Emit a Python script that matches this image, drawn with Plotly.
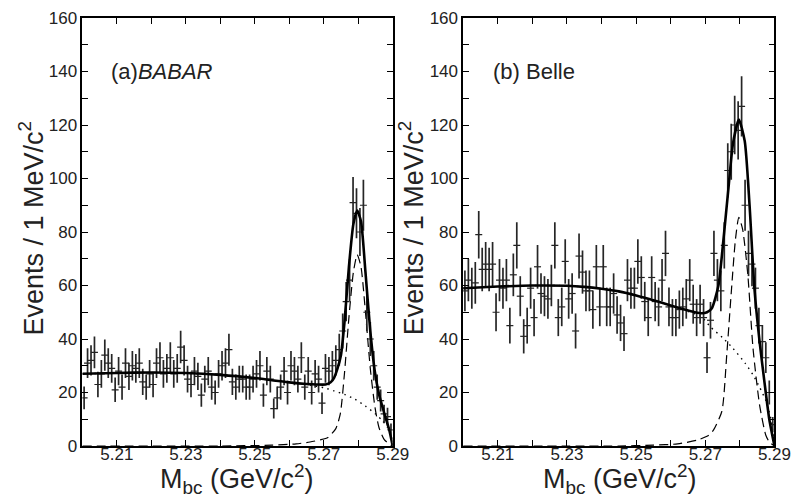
import numpy as np
import plotly.graph_objects as go

# 1 MeV bins, centres from 5.2005 to 5.2895
mbc_bins = np.round(5.2005 + 0.001 * np.arange(90), 4)

babar_counts = [18, 31, 32, 35, 23, 27, 34, 31, 29, 21, 28, 22, 31, 26, 30,
                29, 31, 24, 22, 27, 23, 31, 33, 27, 29, 33, 27, 29, 37, 32,
                25, 23, 28, 26, 19, 25, 28, 22, 20, 27, 30, 31, 36, 24, 22,
                25, 25, 22, 22, 25, 27, 30, 19, 28, 25, 14, 18, 22, 28, 20,
                30, 28, 25, 33, 22, 28, 20, 27, 25, 16, 29, 28, 30, 32, 36,
                43, 54, 62, 91, 87, 80, 90, 50, 40, 30, 22, 17, 12, 11, 6]

belle_counts = [58, 62, 59, 61, 79, 66, 68, 66, 68, 50, 62, 59, 62, 45, 64,
                75, 56, 41, 45, 59, 48, 67, 57, 56, 55, 60, 75, 48, 52, 69,
                55, 57, 43, 71, 65, 58, 58, 51, 67, 52, 67, 52, 52, 57, 49,
                46, 42, 62, 59, 59, 69, 63, 54, 48, 63, 54, 52, 62, 72, 52,
                48, 48, 51, 52, 55, 62, 53, 48, 53, 48, 33, 47, 72, 62, 58,
                75, 103, 110, 120, 118, 127, 90, 72, 68, 59, 45, 39, 33, 20, 8]

# fitted curves
fit_a_x = [5.200, 5.210, 5.220, 5.230, 5.240, 5.250, 5.255, 5.260, 5.265, 5.268,
           5.2705, 5.272, 5.273, 5.274, 5.275, 5.276, 5.2773, 5.2786, 5.2797,
           5.2808, 5.2821, 5.2835, 5.2848, 5.286, 5.2875, 5.289, 5.290]
fit_a_y = [27.0, 27.3, 27.5, 27.3, 26.6, 25.4, 24.6, 23.8, 23.2, 23.0,
           23.0, 23.8, 25.5, 29, 34, 46, 67, 83, 88,
           84, 65, 43, 28, 19.5, 12.5, 6, 0]

bkg_a_x = [5.200, 5.220, 5.240, 5.250, 5.260, 5.266, 5.270, 5.273, 5.276,
           5.279, 5.282, 5.285, 5.287, 5.2885, 5.2895, 5.290]
bkg_a_y = [27, 27.5, 26.6, 25.4, 23.8, 22.8, 21.8, 20.6, 19.3,
           17.5, 15, 12, 9.5, 7, 4.5, 0]

sig_a_x = [5.200, 5.240, 5.255, 5.262, 5.266, 5.269, 5.2712, 5.2735, 5.2748,
           5.276, 5.2773, 5.2786, 5.2797, 5.2808, 5.2821, 5.2835, 5.2848,
           5.286, 5.2875, 5.289, 5.290]
sig_a_y = [0, 0, 0.3, 0.8, 1.5, 2.3, 3.2, 6.5, 12,
           27, 48, 65, 71.5, 67, 50, 29, 15,
           7, 2.5, 0.7, 0]

fit_b_x = [5.200, 5.210, 5.220, 5.230, 5.235, 5.240, 5.245, 5.250, 5.255,
           5.260, 5.264, 5.267, 5.269, 5.2705, 5.2719, 5.2738, 5.2752,
           5.2767, 5.278, 5.2797, 5.2814, 5.2828, 5.2842, 5.2857, 5.2871,
           5.2885, 5.290]
fit_b_y = [59, 59.6, 60, 59.9, 59.5, 58.8, 57.8, 56.3, 54.5,
           52.5, 51, 50, 49.6, 50, 51.5, 60, 76.5,
           96.4, 113, 122, 114, 90, 59, 39, 24,
           10, 0]

bkg_b_x = [5.200, 5.220, 5.230, 5.240, 5.250, 5.260, 5.265, 5.269, 5.2715,
           5.275, 5.278, 5.2815, 5.2838, 5.2857, 5.2875, 5.289, 5.290]
bkg_b_y = [59, 60, 59.9, 58.8, 56.3, 52.5, 50.3, 48.2, 44.5,
           40.5, 36.5, 31, 26.6, 22, 17, 10, 0]

sig_b_x = [5.200, 5.245, 5.255, 5.262, 5.2677, 5.271, 5.2724, 5.2748, 5.2762,
           5.2776, 5.2787, 5.2797, 5.2808, 5.2823, 5.2838, 5.2857, 5.2875,
           5.2885, 5.290]
sig_b_y = [0, 0, 0.3, 0.8, 2.2, 4, 6, 13, 34,
           59, 77, 85.5, 81, 64, 36.5, 15.3, 4,
           1.5, 0]

x_labels = [5.21, 5.23, 5.25, 5.27, 5.29]
y_labels = [0, 20, 40, 60, 80, 100, 120, 140, 160]

FONT = "Liberation Sans, Arial, sans-serif"
W, H = 805, 497

fig = go.Figure()


def add_panel(fig, counts, fit, bkg, sig, xa, ya):
    counts = np.array(counts)
    fig.add_trace(go.Scatter(
        x=bkg[0], y=bkg[1], mode='lines', xaxis=xa, yaxis=ya,
        line=dict(color='black', width=1.4, dash='1.5px,4.5px', shape='spline', smoothing=0.6),
        showlegend=False))
    fig.add_trace(go.Scatter(
        x=sig[0], y=sig[1], mode='lines', xaxis=xa, yaxis=ya,
        line=dict(color='black', width=1.2, dash='9px,5px', shape='spline', smoothing=0.6),
        showlegend=False))
    fig.add_trace(go.Scatter(
        x=mbc_bins, y=counts, mode='markers', xaxis=xa, yaxis=ya,
        marker=dict(symbol='line-ew', size=5, color='#222',
                    line=dict(width=1.2, color='#222')),
        error_y=dict(type='data', array=np.sqrt(counts), width=0,
                     thickness=1.7, color='#262626'),
        showlegend=False))
    fig.add_trace(go.Scatter(
        x=fit[0], y=fit[1], mode='lines', xaxis=xa, yaxis=ya,
        line=dict(color='black', width=2.6, shape='spline', smoothing=0.6),
        showlegend=False))


add_panel(fig, babar_counts, (fit_a_x, fit_a_y), (bkg_a_x, bkg_a_y),
          (sig_a_x, sig_a_y), 'x', 'y')
add_panel(fig, belle_counts, (fit_b_x, fit_b_y), (bkg_b_x, bkg_b_y),
          (sig_b_x, sig_b_y), 'x2', 'y2')

tickfont = dict(family=FONT, size=17, color='#222')
xaxis_style = dict(range=[5.20, 5.29], tickvals=x_labels,
                   tickformat='.2f',
                   ticks='inside', ticklen=6, tickwidth=1.2, tickcolor='black',
                   minor=dict(tick0=5.20, dtick=0.01, ticks='inside', ticklen=6,
                              tickwidth=1.2, tickcolor='black', showgrid=False),
                   showline=True, linecolor='black', linewidth=1.5,
                   mirror='allticks', showgrid=False, zeroline=False,
                   ticklabelstandoff=-8, tickfont=tickfont)
yaxis_style = dict(range=[0, 160], tickvals=y_labels,
                   ticks='inside', ticklen=6, tickwidth=1.2, tickcolor='black',
                   minor=dict(tick0=0, dtick=10, ticks='inside', ticklen=6,
                              tickwidth=1.2, tickcolor='black', showgrid=False),
                   showline=True, linecolor='black', linewidth=1.5,
                   mirror='allticks', showgrid=False, zeroline=False,
                   tickfont=tickfont, domain=[0, 1])

fig.update_layout(
    width=W, height=H,
    margin=dict(l=0, r=0, t=10, b=59),
    paper_bgcolor='white', plot_bgcolor='white',
    xaxis=dict(domain=[76 / W, 393 / W], anchor='y', **xaxis_style),
    yaxis=dict(anchor='x', **yaxis_style),
    xaxis2=dict(domain=[465 / W, 783 / W], anchor='y2', **xaxis_style),
    yaxis2=dict(anchor='x2', **yaxis_style),
    showlegend=False,
)

plot_h = H - 10 - 59


def py(px):
    return (H - 59 - px) / plot_h


annotations = [
    dict(text="(a)<i>BABAR</i>", x=103 / W, y=py(64), xanchor='left'),
    dict(text="(b) Belle", x=493 / W, y=py(64), xanchor='left'),
]
for a in annotations:
    a.update(xref='paper', yref='paper', yanchor='middle', showarrow=False,
             font=dict(family=FONT, size=22, color='#222'))

for cx in (24, 412):
    annotations.append(dict(
        text="Events / 1 MeV/c<sup>2</sup>", x=cx / W, y=py(220),
        xref='paper', yref='paper', xanchor='center', yanchor='middle',
        textangle=-90, showarrow=False,
        font=dict(family=FONT, size=27, color='#222')))
for cx in (234, 625):
    annotations.append(dict(
        text="M<sub>bc</sub> (GeV/c<sup>2</sup>)", x=cx / W, y=py(471),
        xref='paper', yref='paper', xanchor='center', yanchor='middle',
        showarrow=False, font=dict(family=FONT, size=27, color='#222')))

fig.update_layout(annotations=annotations)

fig.write_html("out.html")
